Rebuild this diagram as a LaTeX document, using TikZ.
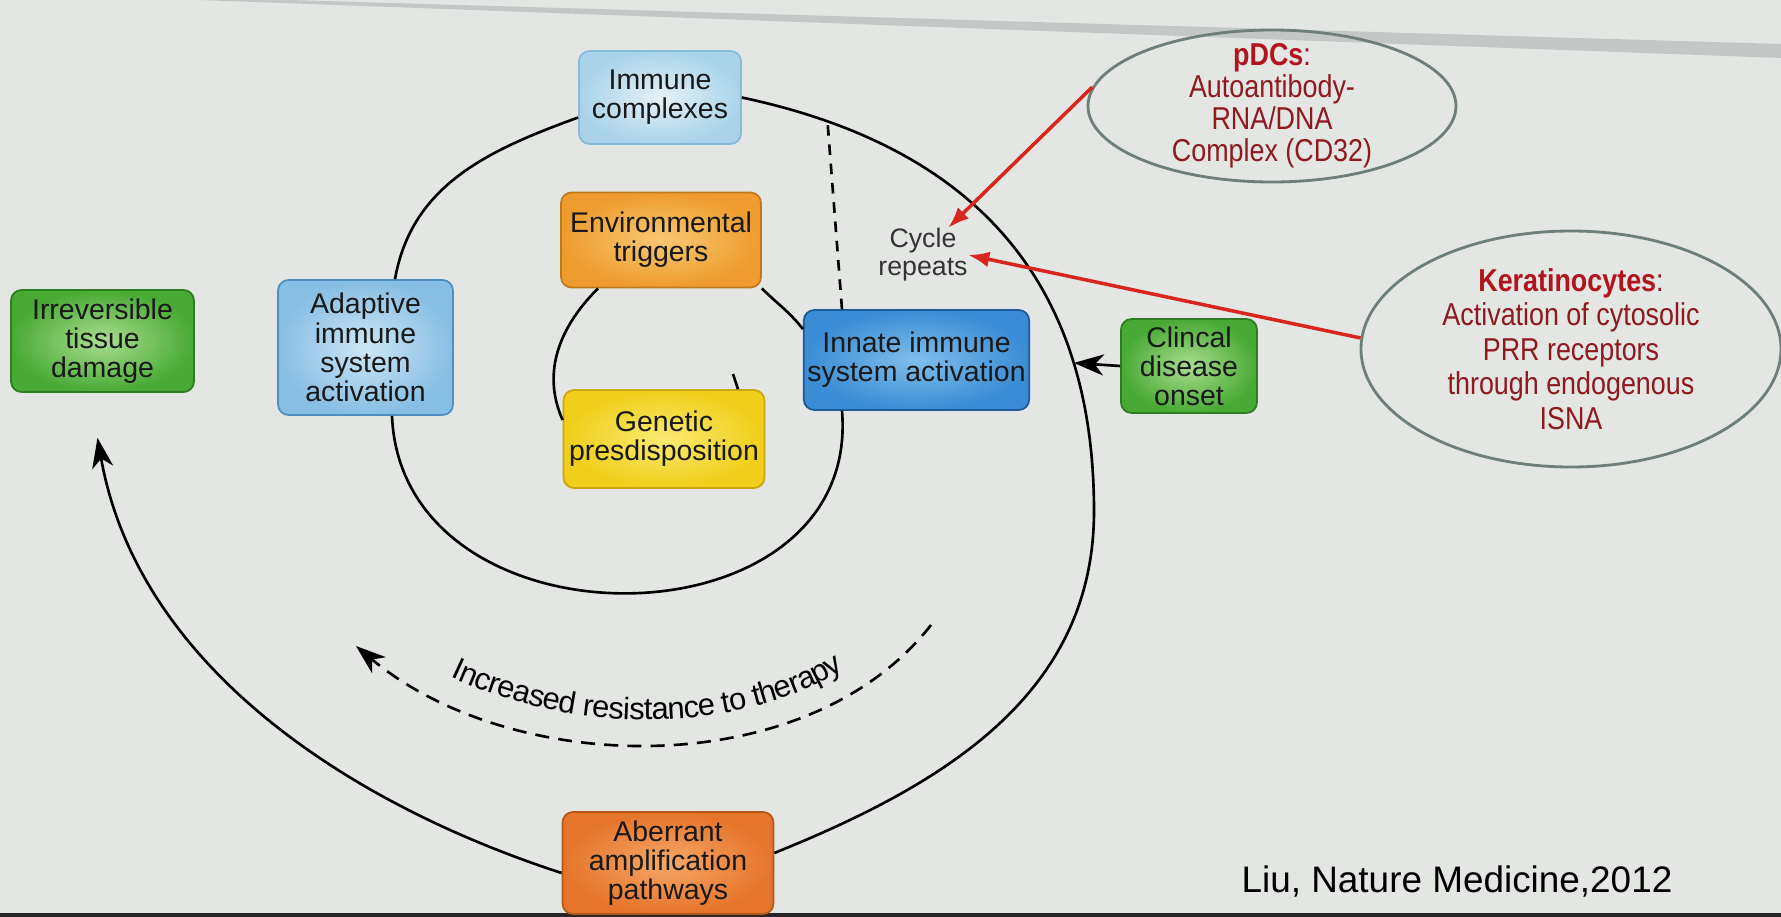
\documentclass[tikz,border=0pt]{standalone}
\usepackage{fontspec}
\setmainfont{Liberation Sans}
\newfontfamily\narrowfont[FakeStretch=0.85]{Liberation Sans}
\usetikzlibrary{shapes.geometric, arrows.meta, calc, decorations.text}

\definecolor{slide}{HTML}{E3E6E3}
\definecolor{bandgray}{HTML}{C3C7C5}
\definecolor{ringgray}{HTML}{6E7E79}
\definecolor{headred}{HTML}{B0141C}
\definecolor{cellred}{HTML}{8E1A1E}
\definecolor{arrowred}{HTML}{D8261E}
\definecolor{paleIn}{HTML}{E4F1F8}
\definecolor{paleOut}{HTML}{AAD3EA}
\definecolor{paleEdge}{HTML}{86BCD9}
\definecolor{blueIn}{HTML}{CDE6F5}
\definecolor{blueOut}{HTML}{87BEE4}
\definecolor{blueEdge}{HTML}{4E8FC0}
\definecolor{deepIn}{HTML}{80BEEB}
\definecolor{deepOut}{HTML}{3A8CD4}
\definecolor{deepEdge}{HTML}{1C5A9C}
\definecolor{orangeIn}{HTML}{F8C873}
\definecolor{orangeOut}{HTML}{EE9C2D}
\definecolor{orangeEdge}{HTML}{C07A1E}
\definecolor{yellowIn}{HTML}{FAEA73}
\definecolor{yellowOut}{HTML}{F0CE19}
\definecolor{yellowEdge}{HTML}{C8A712}
\definecolor{greenIn}{HTML}{AADD91}
\definecolor{greenOut}{HTML}{48AA34}
\definecolor{greenEdge}{HTML}{2D7D20}
\definecolor{rustIn}{HTML}{F5A869}
\definecolor{rustOut}{HTML}{E6742A}
\definecolor{rustEdge}{HTML}{B4571D}

\tikzset{
    block/.style={rectangle, rounded corners=3pt, line width=0.5pt, align=center, text=black!90, inner sep=1pt, font=\fontsize{8.1}{8.3}\selectfont},
    paleblock/.style={block, inner color=paleIn, outer color=paleOut, draw=paleEdge},
    blueblock/.style={block, inner color=blueIn, outer color=blueOut, draw=blueEdge},
    deepblock/.style={block, inner color=deepIn, outer color=deepOut, draw=deepEdge},
    orangeblock/.style={block, inner color=orangeIn, outer color=orangeOut, draw=orangeEdge},
    yellowblock/.style={block, inner color=yellowIn, outer color=yellowOut, draw=yellowEdge},
    greenblock/.style={block, inner color=greenIn, outer color=greenOut, draw=greenEdge},
    rustblock/.style={block, inner color=rustIn, outer color=rustOut, draw=rustEdge},
    cell/.style={ellipse, draw=ringgray, line width=0.8pt, align=center, inner xsep=0pt, inner ysep=-1.5mm, text=cellred},
    line/.style={draw, line width=0.75pt},
    arrowline/.style={draw, line width=0.75pt, -{Stealth[length=8.5pt, width=6pt, inset=2.5pt]}},
    dashedline/.style={draw, line width=0.75pt, dash pattern=on 3pt off 2.5pt},
    dashedarrow/.style={draw, line width=0.75pt, dash pattern=on 4pt off 2.6pt, -{Stealth[length=8.5pt, width=6pt, inset=2.5pt]}},
    redline/.style={draw=arrowred, line width=1pt, -{Latex[length=6pt, width=4.5pt]}},
}

\begin{document}
\begin{tikzpicture}[x=0.1mm, y=0.1mm]

    \useasboundingbox (0,0) rectangle (1781,-917);
    \fill[slide] (0,0) rectangle (1781,-917);
    \fill[bandgray] (290,0) -- (1781,-44) -- (1781,-58) -- (200,0) -- cycle;
    \fill[black!85] (0,-913) rectangle (1781,-917);

    % Boxes
    \node[paleblock, minimum width=16.2mm, minimum height=9.3mm] (immune) at (660,-97.5) {Immune\\complexes};
    \node[orangeblock, minimum width=20mm, minimum height=9.5mm] (env) at (661,-240) {Environmental\\triggers};
    \node[yellowblock, minimum width=20.1mm, minimum height=9.8mm] (genetic) at (664,-439) {Genetic\\presdisposition};
    \node[blueblock, minimum width=17.5mm, minimum height=13.5mm] (adaptive) at (365.5,-347.5) {Adaptive\\immune\\system\\activation};
    \node[deepblock, minimum width=22.3mm, minimum height=10mm] (innate) at (916.5,-360) {Innate immune\\system activation};
    \node[greenblock, minimum width=18.3mm, minimum height=10.2mm] (damage) at (102.5,-341) {Irreversible\\tissue\\damage};
    \node[greenblock, minimum width=13.6mm, minimum height=9.4mm] (onset) at (1189,-366) {Clincal\\disease\\onset};
    \node[rustblock, minimum width=21.1mm, minimum height=10.2mm] (aberrant) at (668,-863) {Aberrant\\amplification\\pathways};

    \node[align=center, inner sep=0pt, text=black!80, font=\fontsize{7.6}{8}\selectfont] (cycle) at (923,-255) {Cycle\\repeats};

    % Cell types
    \node[cell, minimum width=36.8mm, minimum height=15.2mm, font=\narrowfont\fontsize{9}{9.1}\selectfont] (pdc) at (1272,-106) {\textbf{\color{headred}pDCs}:\\Autoantibody-\\RNA/DNA\\Complex (CD32)};
    \node[cell, minimum width=42mm, minimum height=23.6mm, font=\narrowfont\fontsize{9}{9.8}\selectfont] (kera) at (1571,-349) {\textbf{\color{headred}Keratinocytes}:\\Activation of cytosolic\\PRR receptors\\through endogenous\\ISNA};

    \node[font=\fontsize{10.5}{12}\selectfont] (ref) at (1457,-881) {Liu, Nature Medicine,2012};

    % Spiral
    \coordinate (seed) at (733,-374);
    \coordinate (ring_e) at (1094,-511);
    \coordinate (dmg_in) at ([xshift=-0.5mm, yshift=-4.5mm]damage.south);

    \draw[line] ([xshift=7.4mm]genetic.north) -- (seed);
    \draw[line] ([yshift=1.9mm]genetic.west) to[out=114, in=225] ([xshift=-6.3mm]env.south);
    \draw[line] (env.south east) to[out=-45, in=128] ([yshift=-2mm]innate.north west);
    \draw[line] ([xshift=-7.45mm]innate.south) .. controls +(20,-240) and +(10,-240) .. ([xshift=2.65mm]adaptive.south);
    \draw[line] ([xshift=2.95mm]adaptive.north) to[out=80, in=200] ([yshift=-2mm]immune.west);
    \draw[line] (immune.east) to[out=-12, in=90, looseness=1.1] coordinate[pos=0.133] (rep_top) coordinate[pos=0.765] (onset_tip) (ring_e)
        to[out=-90, in=22] ([yshift=1mm]aberrant.east);
    \draw[arrowline] ([yshift=-1mm]aberrant.west) to[out=162, in=-80, looseness=0.92] (dmg_in);

    \draw[dashedline] ([xshift=-7.45mm]innate.north) -- (rep_top);
    \draw[arrowline] (onset.west) -- (onset_tip);

    % Therapy resistance
    \coordinate (resist_a) at (931,-625);
    \coordinate (resist_b) at (356,-646);
    \draw[dashedarrow] (resist_a) to[out=-128, in=-40, looseness=0.9] (resist_b);
    \path[decorate, decoration={text along path, text align=center, raise=7pt,
        text={|\fontsize{8.8}{9}\selectfont|Increased resistance to therapy}}]
        (resist_b) to[out=-40, in=-128, looseness=0.9] (resist_a);

    % Red arrows
    \draw[redline] (pdc.174) -- ([xshift=-2mm]cycle.north east);
    \draw[redline] (kera.177) -- (cycle.east);

\end{tikzpicture}
\end{document}
